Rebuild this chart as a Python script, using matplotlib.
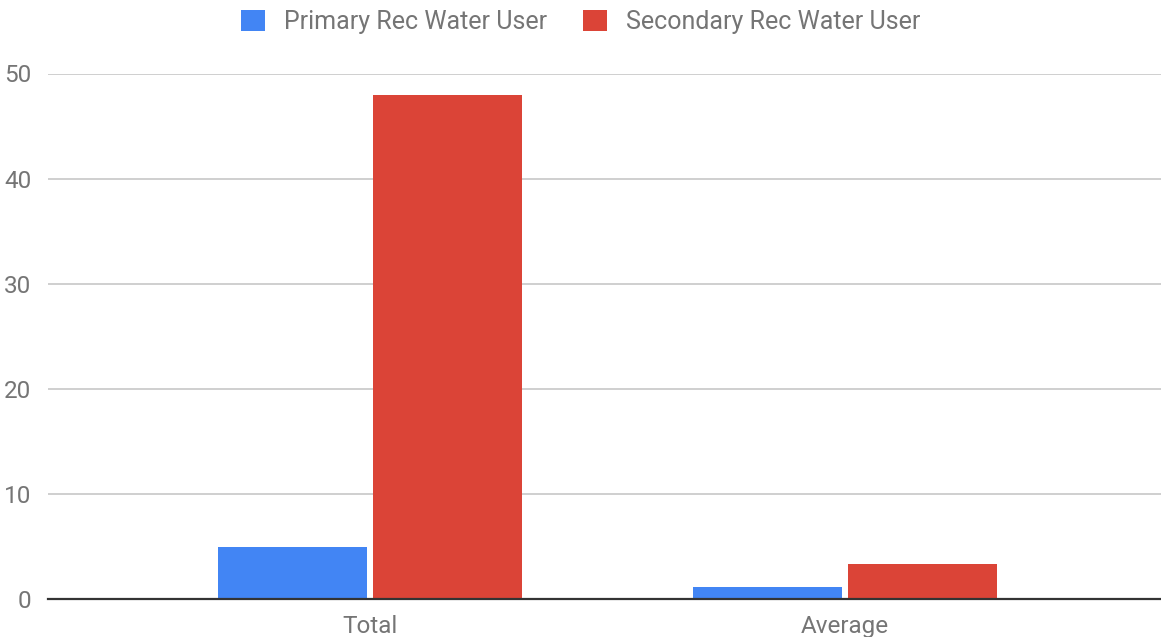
import matplotlib.pyplot as plt
import numpy as np

plt.rcParams['font.family'] = ['Roboto', 'DejaVu Sans']

categories = ['Total', 'Average']
primary = [5, 1.2]
secondary = [48, 3.4]
series_names = ['Primary Rec Water User', 'Secondary Rec Water User']
yticks = [0, 10, 20, 30, 40, 50]

blue = '#4285F4'
red = '#DB4437'
grey = '#757575'

fig = plt.figure(figsize=(11.61, 6.37), dpi=100)
ax = fig.add_axes([48 / 1161, 37.7 / 637, 1113 / 1161, 525.8 / 637])

x = np.arange(len(categories))
w = 0.314
gap = 0.0063
b1 = ax.bar(x - w / 2 - gap, primary, w, color=blue, label=series_names[0], zorder=3)
b2 = ax.bar(x + w / 2 + gap, secondary, w, color=red, label=series_names[1], zorder=3)

ax.set_xlim(-0.678, 1.665)
ax.set_ylim(0, 50)
ax.set_yticks(yticks)
ax.set_xticks(x)
ax.set_xticklabels(categories)
ax.yaxis.grid(True, color='#cccccc', linewidth=1.3, zorder=0)
ax.set_axisbelow(True)
for s in ['top', 'right', 'left']:
    ax.spines[s].set_visible(False)
ax.spines['bottom'].set_color('#333333')
ax.spines['bottom'].set_linewidth(1.6)
ax.spines['bottom'].set_zorder(4)
ax.tick_params(axis='both', length=0, labelsize=17.5, colors=grey)
ax.tick_params(axis='y', pad=12)
ax.tick_params(axis='x', pad=11)

fig.legend(handles=[b1, b2], loc='center', bbox_to_anchor=(0.5, 1 - 22 / 637),
           ncol=2, frameon=False, fontsize=18, labelcolor=grey,
           handlelength=0.95, handleheight=0.95, handletextpad=0.75, columnspacing=1.45)

fig.savefig('out.png', dpi=100)
